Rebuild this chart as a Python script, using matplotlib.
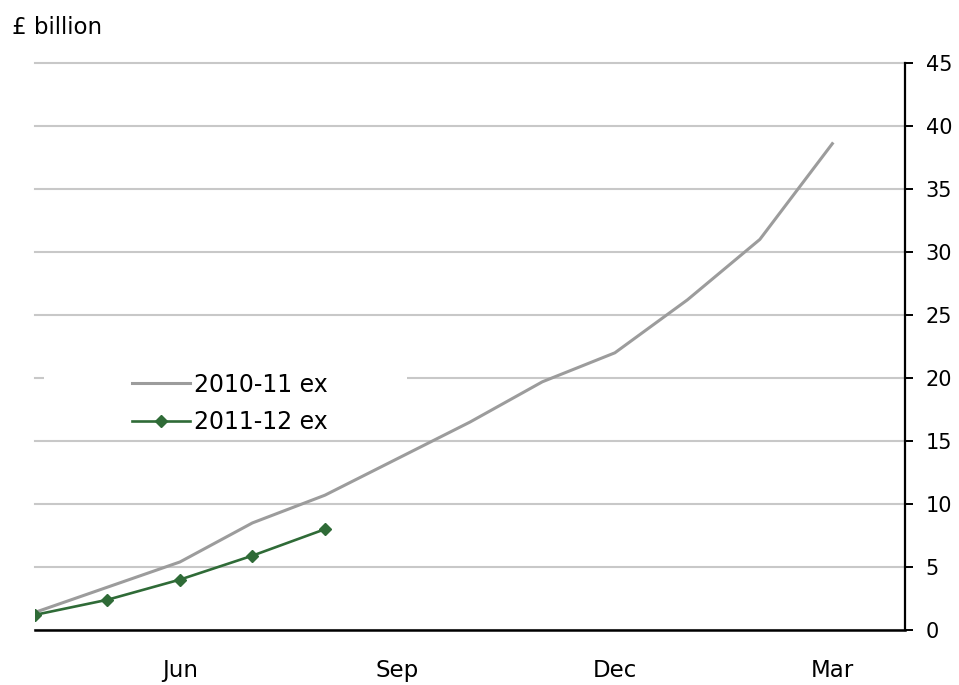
import matplotlib
matplotlib.use("Agg")
import matplotlib.pyplot as plt
from matplotlib.patches import Rectangle

months = ["Apr", "May", "Jun", "Jul", "Aug", "Sep", "Oct", "Nov", "Dec", "Jan", "Feb", "Mar"]
ex_2010_11 = [1.4, 3.4, 5.4, 8.5, 10.7, 13.6, 16.5, 19.7, 22.0, 26.2, 31.0, 38.6]
ex_2011_12 = [1.2, 2.4, 4.0, 5.9, 8.0]
tick_months = ["Jun", "Sep", "Dec", "Mar"]
y_ticks = [0, 5, 10, 15, 20, 25, 30, 35, 40, 45]

plt.rcParams["font.family"] = ["DejaVu Sans"]

fig = plt.figure(figsize=(9.59, 6.85), dpi=100)
ax = fig.add_axes([0.0365, 0.0803, 0.907, 0.8277])

x1 = list(range(len(ex_2010_11)))
x2 = list(range(len(ex_2011_12)))
ax.plot(x1, ex_2010_11, color="#9c9c9c", lw=2.2, label="2010-11 ex", zorder=3)
ax.plot(x2, ex_2011_12, color="#2f6b37", lw=1.9, marker="D", ms=6,
        label="2011-12 ex", zorder=4)

ax.set_xlim(0, 12)
ax.set_ylim(0, 45)
ax.set_yticks(y_ticks)
ax.yaxis.tick_right()
ax.tick_params(axis="y", direction="out", length=6, width=1.4, pad=9,
               labelsize=15, colors="#000000")
ax.set_xticks([months.index(m) for m in tick_months])
ax.set_xticklabels(tick_months)
ax.tick_params(axis="x", length=0, pad=21, labelsize=16.5)

ax.grid(axis="y", color="#c8c8c8", lw=1.5, zorder=0)
for gl in ax.get_ygridlines():
    gl.set_clip_on(False)
ax.set_axisbelow(True)
for side in ("top", "left"):
    ax.spines[side].set_visible(False)
ax.spines["right"].set_linewidth(1.6)
ax.spines["bottom"].set_linewidth(1.8)

# white legend background, wider than its entries as in the original
ax.add_patch(Rectangle((0.0103, 0.344), 0.417, 0.132, transform=ax.transAxes,
                       facecolor="white", edgecolor="none", zorder=2))
leg = ax.legend(loc="upper left", bbox_to_anchor=(0.1115, 0.454), frameon=False,
                fontsize=17, handlelength=2.46, handletextpad=0.17,
                labelspacing=0.58, borderpad=0, borderaxespad=0)
leg.set_zorder(5)

fig.text(0.012, 0.96, "£ billion", fontsize=16.5, ha="left", va="center")

fig.savefig("out.png", dpi=100, facecolor="white")
